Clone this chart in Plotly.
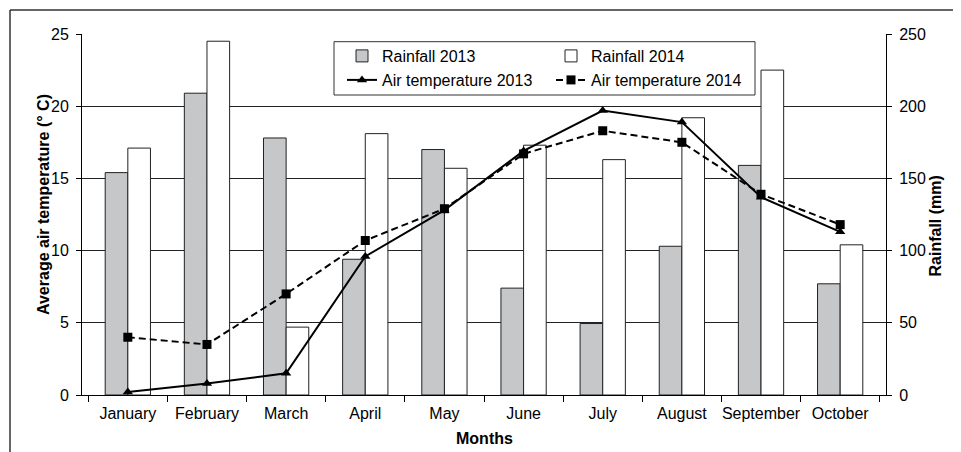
import plotly.graph_objects as go

months = ["January", "February", "March", "April", "May", "June", "July", "August", "September", "October"]
rain_2013 = [154, 209, 178, 94, 170, 74, 49.5, 103, 159, 77]
rain_2014 = [171, 245, 47, 181, 157, 173, 163, 192, 225, 104]
temp_2013 = [0.2, 0.8, 1.5, 9.6, 12.8, 16.9, 19.7, 18.9, 13.7, 11.3]
temp_2014 = [4.0, 3.5, 7.0, 10.7, 12.9, 16.7, 18.3, 17.5, 13.9, 11.8]

FONT = "Liberation Sans, Arial, sans-serif"
FS = 16

# page body has an 8px margin: figure is shifted by 8px
OFF = 8
W, H = 961 - OFF, 452 - OFF
PL, PR, PT, PB = 82, 886, 34, 395  # plot area in page pixels
L, T = PL - OFF, PT - OFF
R = W - (PR - OFF)
B = H - (PB - OFF)
PW = PR - PL
PH = PB - PT

def px(x):
    return (x - PL) / PW

def py(y):
    return (PB - y) / PH

fig = go.Figure()
fig.add_trace(go.Bar(x=months, y=rain_2013, name="Rainfall 2013", yaxis="y",
                     marker=dict(color="#c6c7c9", line=dict(color="#222", width=1)),
                     legend="legend"))
fig.add_trace(go.Bar(x=months, y=rain_2014, name="Rainfall 2014", yaxis="y",
                     marker=dict(color="#ffffff", line=dict(color="#222", width=1)),
                     legend="legend"))
fig.add_trace(go.Scatter(x=months, y=temp_2013, name="Air temperature 2013", yaxis="y2",
                         mode="lines+markers",
                         line=dict(color="black", width=2),
                         marker=dict(symbol="triangle-up", size=9, color="black"),
                         legend="legend2"))
fig.add_trace(go.Scatter(x=months, y=temp_2014, name="Air temperature 2014", yaxis="y2",
                         mode="lines+markers",
                         line=dict(color="black", width=2, dash="7px,4px"),
                         marker=dict(symbol="square", size=9, color="black"),
                         legend="legend2"))

leg_common = dict(orientation="h", entrywidth=164, entrywidthmode="pixels",
                  xanchor="left", yanchor="middle",
                  bgcolor="rgba(0,0,0,0)", borderwidth=0,
                  font=dict(family=FONT, size=FS, color="black"))

fig.update_layout(
    width=W, height=H,
    margin=dict(l=L, r=R, t=T, b=B, pad=0),
    paper_bgcolor="white", plot_bgcolor="white",
    font=dict(family=FONT, size=FS, color="black"),
    barmode="group", bargap=0.428, bargroupgap=0,
    showlegend=True,
    legend=dict(x=px(342), y=py(56), **leg_common),
    legend2=dict(x=px(342), y=py(80), **leg_common),
    xaxis=dict(type="category", showline=True, linecolor="black", linewidth=1,
               ticks="outside", ticklen=6, tickcolor="black", tickson="boundaries",
               showgrid=False, ticklabelstandoff=4, tickangle=0, automargin=False),
    yaxis=dict(side="right", range=[0, 250], dtick=50, showline=True, linecolor="black",
               linewidth=1, ticks="outside", ticklen=5, tickcolor="black",
               showgrid=True, gridcolor="#222", gridwidth=1, zeroline=False,
               ticklabelstandoff=4, automargin=False),
    yaxis2=dict(side="left", overlaying="y", range=[0, 25], dtick=5, showline=True,
                linecolor="black", linewidth=1, ticks="outside", ticklen=5,
                tickcolor="black", showgrid=False, zeroline=False,
                ticklabelstandoff=4, automargin=False),
    annotations=[
        dict(text="<b>Months</b>", xref="paper", yref="paper", x=px(484), y=py(438),
             xanchor="center", yanchor="middle", showarrow=False,
             font=dict(family=FONT, size=FS)),
        dict(text="<b>Average air temperature (° C)</b>", xref="paper", yref="paper",
             x=px(43), y=py(205), xanchor="center", yanchor="middle", textangle=-90,
             showarrow=False, font=dict(family=FONT, size=FS)),
        dict(text="<b>Rainfall (mm)</b>", xref="paper", yref="paper",
             x=px(935), y=py(226.5), xanchor="center", yanchor="middle", textangle=-90,
             showarrow=False, font=dict(family=FONT, size=FS)),
    ],
    shapes=[
        dict(type="rect", xref="paper", yref="paper", x0=px(334), x1=px(755),
             y0=py(95), y1=py(41.7), line=dict(color="#333", width=1),
             fillcolor="white", layer="above"),
        dict(type="line", xref="paper", yref="paper", x0=px(10), x1=px(975),
             y0=py(10), y1=py(10), line=dict(color="#333", width=1.5)),
        dict(type="line", xref="paper", yref="paper", x0=px(10), x1=px(10),
             y0=py(10), y1=py(470), line=dict(color="#333", width=1.5)),
    ],
)

fig.write_html("out.html")
